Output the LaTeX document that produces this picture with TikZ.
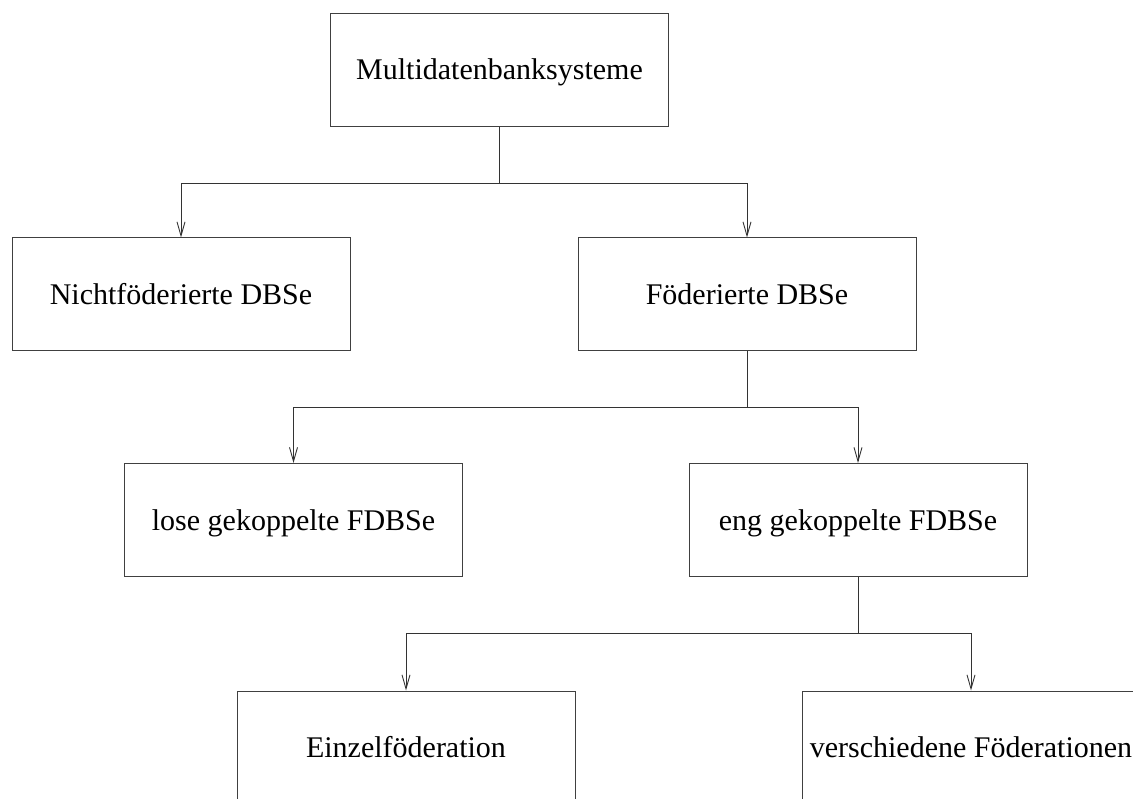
\documentclass[tikz,border=0pt]{standalone}
\usepackage{fontspec}
\setmainfont{Liberation Serif}
\usetikzlibrary{arrows.meta}
\begin{document}
\begin{tikzpicture}[x=1pt,y=-1pt,
  box/.style={draw=black!75, line width=1pt, rectangle, inner sep=0pt,
    minimum width=338pt, minimum height=113pt,
    text height=20pt, text depth=0pt,
    font=\fontsize{30}{36}\selectfont},
  link/.style={draw=black!80, line width=0.9pt},
  arr/.style={link, -{Straight Barb[length=14pt,width=8pt]}}]
  \useasboundingbox (0,0) rectangle (1133,799);
  \clip (0,0) rectangle (1133,799);
  % level 0
  \node[box] (mdbs) at (499.5,70) {Multidatenbanksysteme};
  % level 1
  \node[box] (nicht) at (181,294.5) {Nichtföderierte DBSe};
  \node[box] (foed) at (747,294.5) {Föderierte DBSe};
  % level 2
  \node[box] (lose) at (293.5,520) {lose gekoppelte FDBSe};
  \node[box] (eng) at (858,520) {eng gekoppelte FDBSe};
  % level 3 (runs past the lower edge)
  \node[box] (einzel) at (406,747.5) {Einzelföderation};
  \node[box] (versch) at (971,747.5) {verschiedene Föderationen};
  % branching connectors
  \draw[link] (mdbs.south) -- ++(0,56) coordinate (j0);
  \draw[arr] (j0) -| (nicht.north);
  \draw[arr] (j0) -| (foed.north);
  \draw[link] (foed.south) -- ++(0,56) coordinate (j1);
  \draw[arr] (j1) -| (lose.north);
  \draw[arr] (j1) -| (eng.north);
  \draw[link] (eng.south) -- ++(0,56) coordinate (j2);
  \draw[arr] (j2) -| (einzel.north);
  \draw[arr] (j2) -| (versch.north);
\end{tikzpicture}
\end{document}
